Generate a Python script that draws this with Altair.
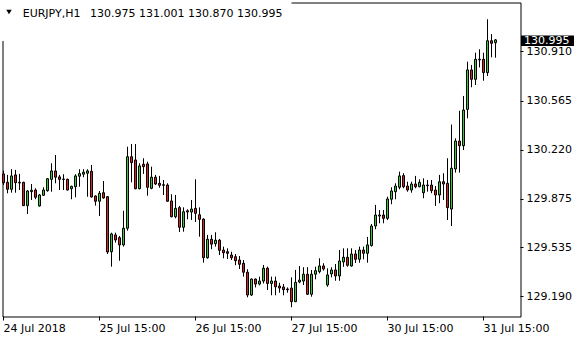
import json
import altair as alt
import pandas as pd

symbol = "EURJPY,H1"

opens = [130.053, 129.994, 129.945, 130.046, 129.994, 129.994, 129.830, 129.928, 129.940, 129.828,
         129.903, 129.935, 130.015, 130.074, 130.032, 130.017, 130.015, 129.949, 129.963, 130.037,
         130.051, 130.058, 130.072, 129.898, 129.861, 129.921, 129.893, 129.506, 129.624, 129.605,
         129.554, 129.671, 130.174, 130.151, 129.949, 130.121, 130.123, 129.952, 130.030, 129.987,
         129.977, 129.975, 129.863, 129.752, 129.816, 129.678, 129.794, 129.785, 129.811, 129.766,
         129.736, 129.464, 129.594, 129.563, 129.587, 129.518, 129.506, 129.483, 129.471, 129.448,
         129.425, 129.362, 129.202, 129.314, 129.279, 129.300, 129.390, 129.283, 129.300, 129.265,
         129.258, 129.244, 129.251, 129.155, 129.293, 129.300, 129.348, 129.207, 129.348, 129.366,
         129.406, 129.272, 129.350, 129.378, 129.336, 129.434, 129.467, 129.406, 129.490, 129.453,
         129.518, 129.495, 129.550, 129.687, 129.757, 129.764, 129.741, 129.875, 129.928, 129.959,
         130.041, 129.968, 129.940, 129.982, 129.963, 129.921, 129.970, 129.975, 129.940, 129.905,
         129.998, 129.987, 129.806, 130.088, 130.284, 130.251, 130.507, 130.784, 130.718, 130.854,
         130.859, 130.765, 130.989, 130.975]
highs = [130.076, 130.046, 130.086, 130.081, 130.053, 129.998, 129.940, 129.982, 129.952, 129.912,
         129.959, 130.024, 130.128, 130.186, 130.046, 130.051, 130.020, 129.970, 130.051, 130.086,
         130.086, 130.086, 130.116, 129.902, 129.933, 130.003, 129.897, 129.640, 129.640, 129.617,
         129.794, 130.244, 130.263, 130.263, 130.128, 130.163, 130.139, 130.104, 130.046, 130.039,
         130.010, 129.987, 129.910, 129.905, 129.828, 129.818, 129.804, 129.870, 130.015, 129.818,
         129.740, 129.624, 129.624, 129.643, 129.596, 129.542, 129.530, 129.506, 129.490, 129.476,
         129.448, 129.383, 129.318, 129.318, 129.331, 129.413, 129.401, 129.331, 129.331, 129.288,
         129.279, 129.255, 129.326, 129.378, 129.406, 129.397, 129.397, 129.378, 129.401, 129.460,
         129.425, 129.389, 129.397, 129.420, 129.518, 129.530, 129.530, 129.530, 129.518, 129.542,
         129.542, 129.610, 129.701, 129.835, 129.799, 129.799, 129.893, 129.959, 129.987, 130.069,
         130.058, 129.998, 129.998, 130.039, 130.015, 130.022, 130.010, 130.010, 129.968, 130.046,
         130.058, 130.163, 130.400, 130.303, 130.497, 130.601, 130.842, 130.819, 130.905, 130.929,
         130.905, 131.140, 131.036, 131.001]
lows = [129.975, 129.917, 129.921, 129.921, 129.940, 129.828, 129.771, 129.870, 129.875, 129.823,
        129.898, 129.928, 129.928, 129.987, 129.940, 129.940, 129.936, 129.875, 129.889, 129.963,
        130.030, 129.893, 129.886, 129.830, 129.757, 129.879, 129.490, 129.401, 129.570, 129.443,
        129.542, 129.654, 129.994, 129.945, 129.945, 130.053, 129.900, 129.945, 129.975, 129.956,
        129.905, 129.858, 129.748, 129.741, 129.645, 129.647, 129.734, 129.729, 129.715, 129.612,
        129.429, 129.457, 129.524, 129.542, 129.483, 129.460, 129.455, 129.448, 129.411, 129.385,
        129.331, 129.186, 129.195, 129.255, 129.270, 129.283, 129.237, 129.200, 129.200, 129.218,
        129.200, 129.218, 129.116, 129.152, 129.285, 129.272, 129.202, 129.190, 129.312, 129.354,
        129.373, 129.260, 129.326, 129.302, 129.302, 129.400, 129.401, 129.401, 129.427, 129.429,
        129.453, 129.429, 129.542, 129.664, 129.706, 129.706, 129.729, 129.840, 129.875, 129.945,
        129.952, 129.928, 129.921, 129.952, 129.959, 129.882, 129.928, 129.917, 129.828, 129.847,
        129.870, 129.729, 129.687, 130.062, 130.062, 130.221, 130.444, 130.662, 130.678, 130.802,
        130.708, 130.741, 130.873, 130.870]
closes = [129.991, 129.945, 130.039, 129.991, 129.989, 129.830, 129.933, 129.938, 129.889, 129.905,
          129.940, 130.019, 130.074, 130.030, 130.015, 130.014, 129.940, 129.966, 130.039, 130.055,
          130.065, 130.074, 129.891, 129.861, 129.917, 129.884, 129.504, 129.631, 129.589, 129.554,
          129.671, 130.174, 130.132, 129.949, 130.109, 130.104, 129.959, 130.030, 129.982, 129.973,
          129.973, 129.861, 129.752, 129.811, 129.678, 129.787, 129.785, 129.806, 129.776, 129.734,
          129.464, 129.594, 129.559, 129.587, 129.516, 129.499, 129.495, 129.464, 129.443, 129.418,
          129.362, 129.202, 129.314, 129.279, 129.300, 129.390, 129.283, 129.300, 129.260, 129.251,
          129.239, 129.239, 129.155, 129.291, 129.307, 129.348, 129.207, 129.348, 129.373, 129.406,
          129.385, 129.343, 129.378, 129.336, 129.441, 129.467, 129.411, 129.490, 129.453, 129.518,
          129.495, 129.554, 129.687, 129.764, 129.764, 129.741, 129.877, 129.933, 129.968, 130.039,
          129.963, 129.940, 129.982, 129.963, 129.994, 129.975, 129.975, 129.935, 129.905, 129.998,
          129.982, 129.816, 130.093, 130.284, 130.251, 130.502, 130.784, 130.718, 130.859, 130.859,
          130.765, 130.989, 130.971, 130.995]

x_tick_bars = [0, 24, 48, 72, 96, 120]
x_tick_labels = ["24 Jul 2018", "25 Jul 15:00", "26 Jul 15:00", "27 Jul 15:00", "30 Jul 15:00", "31 Jul 15:00"]
price_ticks = [129.190, 129.535, 129.875, 130.220, 130.565, 130.910]

FONT = "DejaVu Sans"
GREEN = "#32CD32"
RED = "#DC1E1E"

n = len(opens)
df = pd.DataFrame({
    "i": list(range(n)),
    "open": opens, "high": highs, "low": lows, "close": closes,
})
df["top"] = df[["open", "close"]].max(axis=1)
df["bot"] = df[["open", "close"]].min(axis=1)
df["dir"] = ["up" if c >= o else "down" for o, c in zip(opens, closes)]

xscale = alt.Scale(domain=[-0.25, 129.25], nice=False, zero=False, padding=0)
yscale = alt.Scale(domain=[129.0508, 131.2579], nice=False, zero=False, padding=0)

label_expr = f"{json.dumps(x_tick_labels)}[indexof({json.dumps(x_tick_bars)}, datum.value)]"

x_axis = alt.Axis(values=x_tick_bars, labelExpr=label_expr, orient="bottom", domain=False,
                  ticks=True, tickSize=4, tickColor="black", labelAlign="left", labelBaseline="top",
                  labelPadding=2, labelFont=FONT, labelFontSize=11, labelColor="black", grid=False,
                  labelFlush=False, labelOverlap=False, labelBound=False, title=None, translate=0)
y_axis = alt.Axis(values=price_ticks, format=".3f", orient="right", domain=False, ticks=True,
                  tickSize=3, tickColor="black", labelPadding=3, labelFont=FONT, labelFontSize=11,
                  labelColor="black", grid=False, labelOverlap=False, labelBound=False,
                  labelFlush=False, title=None, translate=0)

base = alt.Chart(df)

wicks = base.mark_rule(color="black", strokeWidth=1).encode(
    x=alt.X("i:Q", scale=xscale, axis=x_axis),
    y=alt.Y("low:Q", scale=yscale, axis=y_axis),
    y2="high:Q",
)

bodies = base.mark_bar(size=2, stroke="black", strokeWidth=1).encode(
    x=alt.X("i:Q", scale=xscale),
    y=alt.Y("bot:Q", scale=yscale),
    y2="top:Q",
    color=alt.Color("dir:N", scale=alt.Scale(domain=["up", "down"], range=[GREEN, RED]), legend=None),
)

# white box behind the header (covers the frame there)
hdr_df = pd.DataFrame({"a": [0]})
hdr_box = alt.Chart(hdr_df).mark_rect(color="white").encode(
    x=alt.value(-2.5), x2=alt.value(289), y=alt.value(-2.5), y2=alt.value(38.5)
)
tri = alt.Chart(hdr_df).mark_point(shape="triangle-down", filled=True, color="black", size=30, opacity=1).encode(
    x=alt.value(6.5), y=alt.value(9.5)
)
hdr1 = alt.Chart(hdr_df).mark_text(align="left", baseline="alphabetic", font=FONT, fontSize=11, color="black").encode(
    x=alt.value(20.2), y=alt.value(14), text=alt.value(symbol)
)
last = n - 1
ohlc_txt = f"{opens[last]:.3f} {highs[last]:.3f} {lows[last]:.3f} {closes[last]:.3f}"
hdr2 = alt.Chart(hdr_df).mark_text(align="left", baseline="alphabetic", font=FONT, fontSize=11, color="black").encode(
    x=alt.value(87.5), y=alt.value(14), text=alt.value(ohlc_txt)
)

# current price marker on the right axis
cur_df = pd.DataFrame({"price": [closes[last]], "label": [f"{closes[last]:.3f}"]})
cur_box = alt.Chart(cur_df).mark_rect(color="black", yOffset=-4.5, y2Offset=6).encode(
    x=alt.value(518.5), x2=alt.value(571.5),
    y=alt.Y("price:Q", scale=yscale), y2="price:Q",
)
cur_txt = alt.Chart(cur_df).mark_text(align="left", baseline="middle", font=FONT, fontSize=11,
                                      color="white", dy=1).encode(
    x=alt.value(521.5), y=alt.Y("price:Q", scale=yscale), text="label:N"
)

chart = alt.layer(wicks, bodies, hdr_box, tri, hdr1, hdr2, cur_box, cur_txt).properties(
    width=518, height=314,
    padding={"left": 2.5, "top": 2.5, "right": 59.5, "bottom": 23.5},
    autosize=alt.AutoSizeParams(type="none"),
    background="white",
).configure_view(stroke="black", strokeWidth=1, fill="white")

chart.save("out.html", embed_options={"renderer": "svg", "actions": False})
